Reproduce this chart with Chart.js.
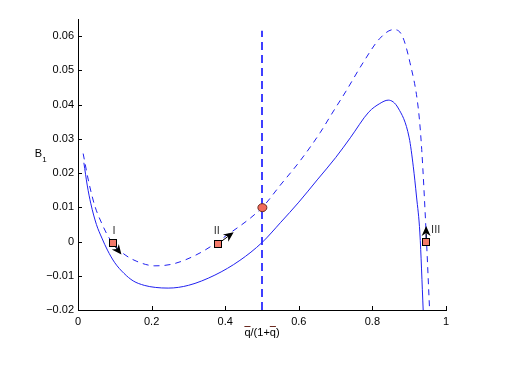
<!DOCTYPE html>
<html>
<head>
<meta charset="utf-8">
<script src="https://cdn.jsdelivr.net/npm/chart.js@4"></script>
<style>
  html, body { margin: 0; padding: 0; background: #fff; }
  #wrap { width: 507px; height: 368px; }
</style>
</head>
<body>
<div id="wrap"><canvas id="chart" width="507" height="368"></canvas></div>
<script>
// solid curve
const solidX = [0.016, 0.025, 0.035, 0.05, 0.065, 0.08, 0.1, 0.125, 0.15, 0.18, 0.21, 0.245, 0.3, 0.372, 0.44, 0.5, 0.55, 0.6, 0.65, 0.7, 0.74, 0.79, 0.82, 0.843, 0.87, 0.9, 0.911, 0.92, 0.929, 0.938];
const solidY = [0.023, 0.0165, 0.011, 0.005, 0.001, -0.0025, -0.0062, -0.0093, -0.0115, -0.0128, -0.0134, -0.0136, -0.0128, -0.0098, -0.0055, -0.0003, 0.0055, 0.0115, 0.018, 0.0245, 0.0303, 0.0378, 0.0403, 0.0413, 0.039, 0.0303, 0.022, 0.013, 0.0025, -0.02];
// dashed curve
const dashX = [0.014, 0.03, 0.046, 0.065, 0.082, 0.1, 0.128, 0.16, 0.209, 0.26, 0.332, 0.4, 0.5, 0.55, 0.603, 0.658, 0.689, 0.727, 0.775, 0.82, 0.857, 0.88, 0.902, 0.925, 0.934, 0.946, 0.955];
const dashY = [0.0257, 0.017, 0.0103, 0.0052, 0.0015, -0.0012, -0.0039, -0.0058, -0.0071, -0.0065, -0.0033, 0.0015, 0.0099, 0.0165, 0.0235, 0.0318, 0.0372, 0.0437, 0.0523, 0.0593, 0.0619, 0.0603, 0.0523, 0.0386, 0.0269, 0.0025, -0.019];
// vertical line at q/(1+q) = 0.5
const vlineX = [0.5, 0.5];
const vlineY = [-0.02, 0.0616];
// points I, II, III and the circle
const pointLabels = ['I', 'II', 'III'];
const pointX = [0.094, 0.38, 0.946];
const pointY = [-0.0005, -0.0007, 0.0];
const labelX = [0.098, 0.377, 0.972];
const labelY = [0.003, 0.003, 0.0034];
const arrowEndX = [0.118, 0.423, 0.946];
const arrowEndY = [-0.0038, 0.0027, 0.0045];
const circleX = [0.501];
const circleY = [0.0099];
// axes
const xTicks = [0, 0.2, 0.4, 0.6, 0.8, 1];
const yTicks = [-0.02, -0.01, 0, 0.01, 0.02, 0.03, 0.04, 0.05, 0.06];

const FONT = '"Liberation Sans", Arial, sans-serif';
const toPts = (xs, ys) => xs.map((x, i) => ({ x, y: ys[i] }));

const decorations = {
  id: 'decorations',
  afterDatasetsDraw(chart) {
    const { ctx, scales: { x, y } } = chart;
    ctx.save();
    // inward ticks
    ctx.strokeStyle = '#000';
    ctx.lineWidth = 1;
    ctx.beginPath();
    xTicks.forEach(v => {
      const px = Math.round(x.getPixelForValue(v)) + 0.5;
      ctx.moveTo(px, y.bottom);
      ctx.lineTo(px, y.bottom - 4);
    });
    yTicks.forEach(v => {
      const py = Math.round(y.getPixelForValue(v)) + 0.5;
      ctx.moveTo(x.left, py);
      ctx.lineTo(x.left + 4, py);
    });
    ctx.stroke();

    // arrows
    pointX.forEach((px0, i) => {
      const x0 = x.getPixelForValue(px0), y0 = y.getPixelForValue(pointY[i]);
      const x1 = x.getPixelForValue(arrowEndX[i]), y1 = y.getPixelForValue(arrowEndY[i]);
      const ang = Math.atan2(y1 - y0, x1 - x0);
      ctx.strokeStyle = '#000';
      ctx.lineWidth = 1;
      ctx.beginPath();
      ctx.moveTo(x0, y0);
      ctx.lineTo(x1 - 5 * Math.cos(ang), y1 - 5 * Math.sin(ang));
      ctx.stroke();
      ctx.fillStyle = '#000';
      ctx.translate(x1, y1);
      ctx.rotate(ang);
      ctx.beginPath();
      ctx.moveTo(0, 0);
      ctx.lineTo(-10, -4.5);
      ctx.lineTo(-7, 0);
      ctx.lineTo(-10, 4.5);
      ctx.closePath();
      ctx.fill();
      ctx.setTransform(1, 0, 0, 1, 0, 0);
    });

    // markers
    pointX.forEach((px0, i) => {
      const cx = Math.round(x.getPixelForValue(px0)), cy = Math.round(y.getPixelForValue(pointY[i]));
      ctx.fillStyle = '#f47a6a';
      ctx.fillRect(cx - 3.5, cy - 3.5, 7, 7);
      ctx.strokeStyle = '#000';
      ctx.strokeRect(cx - 3.5, cy - 3.5, 7, 7);
    });
    circleX.forEach((cxv, i) => {
      const cx = x.getPixelForValue(cxv), cy = y.getPixelForValue(circleY[i]);
      ctx.beginPath();
      ctx.ellipse(cx, cy, 4.5, 4, 0, 0, Math.PI * 2);
      ctx.fillStyle = '#f26b5b';
      ctx.fill();
      ctx.strokeStyle = '#6b2a20';
      ctx.stroke();
    });

    // point labels
    ctx.fillStyle = '#333';
    ctx.font = '11px ' + FONT;
    ctx.textAlign = 'center';
    ctx.textBaseline = 'middle';
    pointLabels.forEach((t, i) => {
      ctx.fillText(t, x.getPixelForValue(labelX[i]), y.getPixelForValue(labelY[i]));
    });

    // axis titles
    ctx.fillStyle = '#000';
    ctx.font = '11px ' + FONT;
    ctx.fillText('B', 38.5, 154);
    ctx.font = '8px ' + FONT;
    ctx.fillText('1', 44.5, 160);

    ctx.font = '11px ' + FONT;
    ctx.textAlign = 'left';
    const parts = ['q', '/(1+', 'q', ')'];
    const total = parts.reduce((s, p) => s + ctx.measureText(p).width, 0);
    let tx = (x.left + x.right) / 2 - total / 2;
    const ty = 333;
    parts.forEach((p, i) => {
      const w = ctx.measureText(p).width;
      ctx.fillText(p, tx, ty);
      if (p === 'q') {
        ctx.beginPath();
        ctx.moveTo(tx, ty - 6.5);
        ctx.lineTo(tx + w, ty - 6.5);
        ctx.lineWidth = 1;
        ctx.stroke();
      }
      tx += w;
    });
    ctx.restore();
  }
};

new Chart(document.getElementById('chart'), {
  type: 'scatter',
  data: {
    datasets: [
      {
        data: toPts(solidX, solidY),
        showLine: true,
        borderColor: '#2020f0',
        borderWidth: 1,
        pointRadius: 0,
        cubicInterpolationMode: 'monotone'
      },
      {
        data: toPts(dashX, dashY),
        showLine: true,
        borderColor: '#2020f0',
        borderWidth: 1,
        borderDash: [6, 5],
        pointRadius: 0,
        cubicInterpolationMode: 'monotone'
      },
      {
        data: toPts(vlineX, vlineY),
        showLine: true,
        borderColor: '#0000ff',
        borderWidth: 1.5,
        borderDash: [8, 5],
        pointRadius: 0
      }
    ]
  },
  options: {
    responsive: false,
    animation: false,
    layout: { padding: { top: 19, right: 61, left: 0, bottom: 0 } },
    plugins: { legend: { display: false }, tooltip: { enabled: false } },
    scales: {
      x: {
        type: 'linear',
        min: 0,
        max: 1,
        afterFit: s => { s.height = 58; },
        afterBuildTicks: s => { s.ticks = xTicks.map(v => ({ value: v })); },
        grid: { display: true, drawOnChartArea: false, drawTicks: false },
        border: { display: true, color: '#000', width: 1 },
        ticks: {
          color: '#000',
          padding: 5,
          maxRotation: 0,
          font: { family: FONT, size: 11 },
          callback: v => String(v)
        }
      },
      y: {
        type: 'linear',
        min: -0.02,
        max: 0.065,
        afterFit: s => { s.width = 78; },
        afterBuildTicks: s => { s.ticks = yTicks.map(v => ({ value: v })); },
        grid: { display: true, drawOnChartArea: false, drawTicks: false },
        border: { display: true, color: '#000', width: 1 },
        ticks: {
          color: '#000',
          padding: 4,
          font: { family: FONT, size: 11 },
          callback: v => String(v).replace('-', '\u2212')
        }
      }
    }
  },
  plugins: [decorations]
});
</script>
</body>
</html>
